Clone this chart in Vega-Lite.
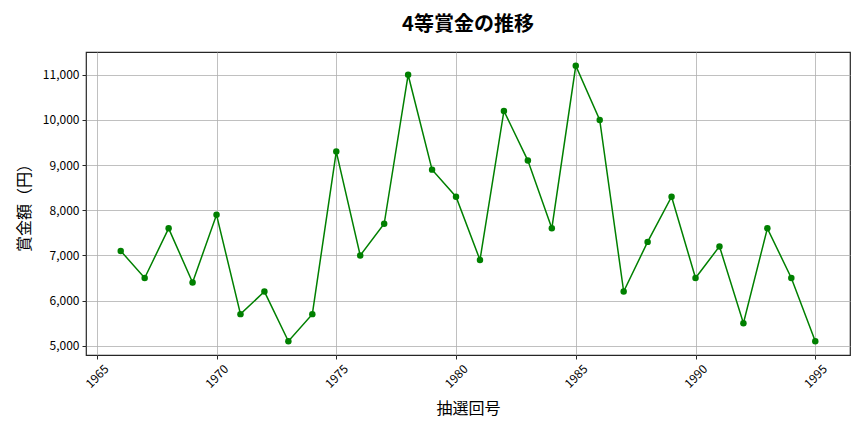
{
  "$schema": "https://vega.github.io/schema/vega-lite/v6.json",
  "width": 764,
  "height": 303,
  "autosize": {"type": "none"},
  "padding": {"left": 86, "top": 52, "right": 14, "bottom": 77},
  "background": "white",
  "title": {
    "text": "4等賞金の推移",
    "font": "Noto Sans CJK JP",
    "fontSize": 20,
    "fontWeight": "bold",
    "color": "#000000",
    "anchor": "middle",
    "offset": 17
  },
  "config": {
    "view": {"stroke": "#262626", "strokeWidth": 1.2},
    "axis": {
      "labelFont": "Noto Sans CJK JP",
      "titleFont": "Noto Sans CJK JP",
      "labelColor": "#000000",
      "titleColor": "#000000",
      "labelFontSize": 12,
      "titleFontSize": 16,
      "titleFontWeight": "normal",
      "gridColor": "#b0b0b0",
      "gridWidth": 0.8,
      "gridOpacity": 1,
      "tickColor": "#262626",
      "tickSize": 4,
      "domain": false
    }
  },
  "data": {
    "values": [
      {"year": 1966, "prize": 7100},
      {"year": 1967, "prize": 6500},
      {"year": 1968, "prize": 7600},
      {"year": 1969, "prize": 6400},
      {"year": 1970, "prize": 7900},
      {"year": 1971, "prize": 5700},
      {"year": 1972, "prize": 6200},
      {"year": 1973, "prize": 5100},
      {"year": 1974, "prize": 5700},
      {"year": 1975, "prize": 9300},
      {"year": 1976, "prize": 7000},
      {"year": 1977, "prize": 7700},
      {"year": 1978, "prize": 11000},
      {"year": 1979, "prize": 8900},
      {"year": 1980, "prize": 8300},
      {"year": 1981, "prize": 6900},
      {"year": 1982, "prize": 10200},
      {"year": 1983, "prize": 9100},
      {"year": 1984, "prize": 7600},
      {"year": 1985, "prize": 11200},
      {"year": 1986, "prize": 10000},
      {"year": 1987, "prize": 6200},
      {"year": 1988, "prize": 7300},
      {"year": 1989, "prize": 8300},
      {"year": 1990, "prize": 6500},
      {"year": 1991, "prize": 7200},
      {"year": 1992, "prize": 5500},
      {"year": 1993, "prize": 7600},
      {"year": 1994, "prize": 6500},
      {"year": 1995, "prize": 5100}
    ]
  },
  "encoding": {
    "x": {
      "field": "year",
      "type": "quantitative",
      "scale": {"domain": [1964.55, 1996.45], "nice": false, "zero": false},
      "axis": {
        "title": "抽選回号",
        "values": [1965, 1970, 1975, 1980, 1985, 1990, 1995],
        "format": "d",
        "labelAngle": -45,
        "labelAlign": "center",
        "labelBaseline": "middle",
        "labelPadding": 17,
        "titlePadding": 11
      }
    },
    "y": {
      "field": "prize",
      "type": "quantitative",
      "scale": {"domain": [4795, 11505], "nice": false, "zero": false},
      "axis": {
        "title": "賞金額（円）",
        "values": [5000, 6000, 7000, 8000, 9000, 10000, 11000],
        "format": ",d",
        "labelPadding": 3,
        "titlePadding": 10
      }
    }
  },
  "layer": [
    {"mark": {"type": "line", "color": "#008000", "strokeWidth": 1.5}},
    {"mark": {"type": "point", "filled": true, "color": "#008000", "opacity": 1, "size": 42}}
  ]
}
